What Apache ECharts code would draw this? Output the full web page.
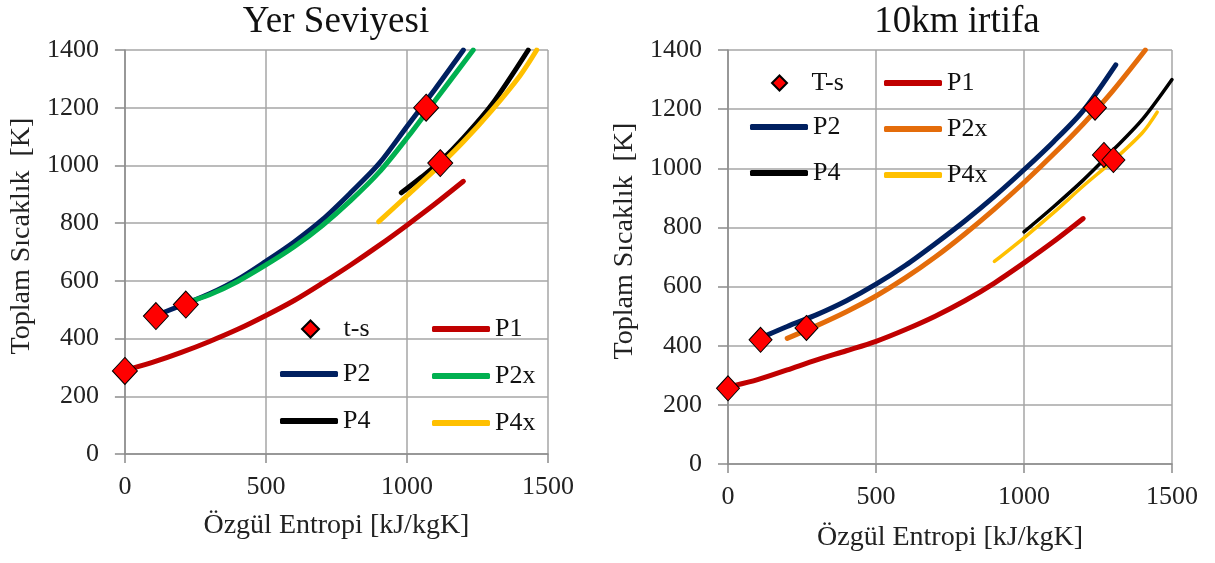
<!DOCTYPE html>
<html>
<head>
<meta charset="utf-8">
<script src="https://cdn.jsdelivr.net/npm/echarts@6/dist/echarts.min.js"></script>
<style>
  html, body { margin: 0; padding: 0; background: #fff; }
  #yer { position: absolute; left: 0; top: 0; width: 600px; height: 563px; }
  #irtifa { position: absolute; left: 600px; top: 0; width: 615px; height: 563px; }
</style>
</head>
<body>
<div id="yer"></div>
<div id="irtifa"></div>
<script>
// eksen ve etiketler
var xTicks = [0, 500, 1000, 1500];
var yTicks = [0, 200, 400, 600, 800, 1000, 1200, 1400];
var xName = 'Özgül Entropi [kJ/kgK]';
var yName = 'Toplam Sıcaklık  [K]';

// Yer Seviyesi  [s, T]
var yerTs  = [[0, 288], [110, 478], [216, 518], [1068, 1200], [1118, 1008]];
var yerP1  = [[20, 295], [100, 318], [200, 352], [300, 390], [400, 432], [500, 480], [600, 532], [700, 592], [800, 655], [900, 722], [1000, 793], [1100, 867], [1200, 945]];
var yerP2  = [[110, 480], [200, 515], [300, 555], [400, 605], [500, 668], [600, 735], [700, 812], [800, 905], [900, 1005], [1000, 1135], [1100, 1265], [1200, 1400]];
var yerP2x = [[220, 525], [300, 552], [400, 598], [500, 655], [600, 718], [700, 792], [800, 878], [900, 975], [1000, 1095], [1100, 1225], [1235, 1400]];
var yerP4  = [[980, 905], [1050, 958], [1120, 1015], [1200, 1095], [1300, 1210], [1430, 1400]];
var yerP4x = [[900, 805], [1000, 895], [1100, 985], [1200, 1082], [1300, 1190], [1400, 1310], [1460, 1400]];

// 10km irtifa
var irtTs  = [[0, 256], [110, 420], [265, 460], [1240, 1205], [1270, 1045], [1302, 1028]];
var irtP1  = [[20, 265], [100, 285], [200, 318], [300, 352], [400, 383], [500, 415], [600, 455], [700, 500], [800, 552], [900, 612], [1000, 680], [1100, 752], [1200, 830]];
var irtP2  = [[130, 435], [200, 465], [300, 505], [400, 552], [500, 608], [600, 672], [700, 745], [800, 822], [900, 905], [1000, 995], [1100, 1090], [1200, 1195], [1310, 1350]];
var irtP2x = [[200, 425], [300, 468], [400, 515], [500, 568], [600, 630], [700, 700], [800, 778], [900, 862], [1000, 952], [1100, 1048], [1200, 1150], [1300, 1262], [1410, 1400]];
var irtP4  = [[1000, 785], [1100, 870], [1200, 960], [1300, 1060], [1400, 1165], [1500, 1300]];
var irtP4x = [[900, 685], [1000, 765], [1100, 850], [1200, 940], [1300, 1025], [1400, 1120], [1450, 1190]];

var serif = "'Liberation Serif', 'Times New Roman', serif";

function lineSeries(name, data, color, width) {
  return {
    name: name, type: 'line', data: data, smooth: 0.3,
    showSymbol: false, symbol: 'none', color: color,
    lineStyle: { color: color, width: width, cap: 'round' },
    z: 2
  };
}

function markSeries(name, data, size) {
  return {
    name: name, type: 'scatter', data: data, symbol: 'diamond', symbolSize: size,
    color: '#FF0000',
    itemStyle: { color: '#FF0000', borderColor: '#000', borderWidth: 1, opacity: 1 },
    z: 5
  };
}

function plain(v) { return String(v); }

function makeOption(cfg) {
  var legText = { fontFamily: serif, fontSize: 26, color: '#111', lineHeight: 24 };
  return {
    animation: false,
    title: {
      text: cfg.title, left: cfg.titleX, top: 4, padding: 0, textAlign: 'center',
      textStyle: { fontFamily: serif, fontSize: 37, fontWeight: 'normal', color: '#111' }
    },
    grid: { left: cfg.grid[0], top: cfg.grid[1], width: cfg.grid[2], height: cfg.grid[3] },
    legend: [
      { data: [{ name: cfg.series[0].name, icon: 'diamond' }], left: cfg.legA[0], top: cfg.legA[1],
        itemWidth: cfg.legA[2], itemHeight: cfg.legA[2], padding: 0,
        formatter: function (n) { return '   ' + n; },
        selectedMode: false, textStyle: legText },
      { data: [cfg.series[2].name, cfg.series[4].name], left: cfg.legB[0], top: cfg.legB[1], orient: 'vertical',
        icon: 'roundRect', itemWidth: 58, itemHeight: 6, itemGap: cfg.legGap, padding: 0,
        selectedMode: false, textStyle: legText },
      { data: [cfg.series[1].name, cfg.series[3].name, cfg.series[5].name], left: cfg.legC[0], top: cfg.legC[1], orient: 'vertical',
        icon: 'roundRect', itemWidth: 58, itemHeight: 6, itemGap: cfg.legGap, padding: 0,
        selectedMode: false, textStyle: legText }
    ],
    xAxis: {
      type: 'value', min: xTicks[0], max: xTicks[xTicks.length - 1], interval: 500,
      name: xName, nameLocation: 'middle', nameGap: cfg.xNameGap,
      nameTextStyle: { fontFamily: serif, fontSize: 28, color: '#222' },
      axisLine: { lineStyle: { color: '#8c8c8c', width: 1.5 } },
      axisTick: { show: true, length: 9, lineStyle: { color: '#8c8c8c', width: 1.5 } },
      axisLabel: { fontFamily: serif, fontSize: 26, color: '#222', margin: 20, formatter: plain },
      splitLine: { show: true, lineStyle: { color: '#a6a6a6', width: 1.5 } }
    },
    yAxis: {
      type: 'value', min: yTicks[0], max: yTicks[yTicks.length - 1], interval: 200,
      name: yName, nameLocation: 'middle', nameGap: 86, nameRotate: 90,
      nameTextStyle: { fontFamily: serif, fontSize: 28, color: '#222', padding: [0, 0, 0, 32] },
      axisLine: { show: true, lineStyle: { color: '#8c8c8c', width: 1.5 } },
      axisTick: { show: true, length: 10, lineStyle: { color: '#8c8c8c', width: 1.5 } },
      axisLabel: { fontFamily: serif, fontSize: 26, color: '#222', margin: 26, formatter: plain },
      splitLine: { show: true, lineStyle: { color: '#a6a6a6', width: 1.5 } }
    },
    series: cfg.series
  };
}

var yerChart = echarts.init(document.getElementById('yer'));
yerChart.setOption(makeOption({
  title: 'Yer Seviyesi', titleX: 336,
  grid: [124, 50, 424, 404],
  xNameGap: 58,
  legGap: 21, legA: [301, 316, 17],
  legB: [280, 361], legC: [432, 316],
  series: [
    markSeries('t-s', yerTs, [25, 27]),
    lineSeries('P1', yerP1, '#C00000', 5),
    lineSeries('P2', yerP2, '#002060', 5),
    lineSeries('P2x', yerP2x, '#00B050', 5),
    lineSeries('P4', yerP4, '#000000', 5),
    lineSeries('P4x', yerP4x, '#FFC000', 5)
  ]
}));

var irtChart = echarts.init(document.getElementById('irtifa'));
irtChart.setOption(makeOption({
  title: '10km irtifa', titleX: 357,
  grid: [128, 50, 444, 414],
  xNameGap: 60,
  legGap: 20, legA: [171, 70, 15],
  legB: [150, 114], legC: [284, 70],
  series: [
    markSeries('T-s', irtTs, [23, 25]),
    lineSeries('P1', irtP1, '#C00000', 5),
    lineSeries('P2', irtP2, '#002060', 5),
    lineSeries('P2x', irtP2x, '#E46C0A', 5),
    lineSeries('P4', irtP4, '#000000', 3.5),
    lineSeries('P4x', irtP4x, '#FFC000', 3.5)
  ]
}));
</script>
</body>
</html>
